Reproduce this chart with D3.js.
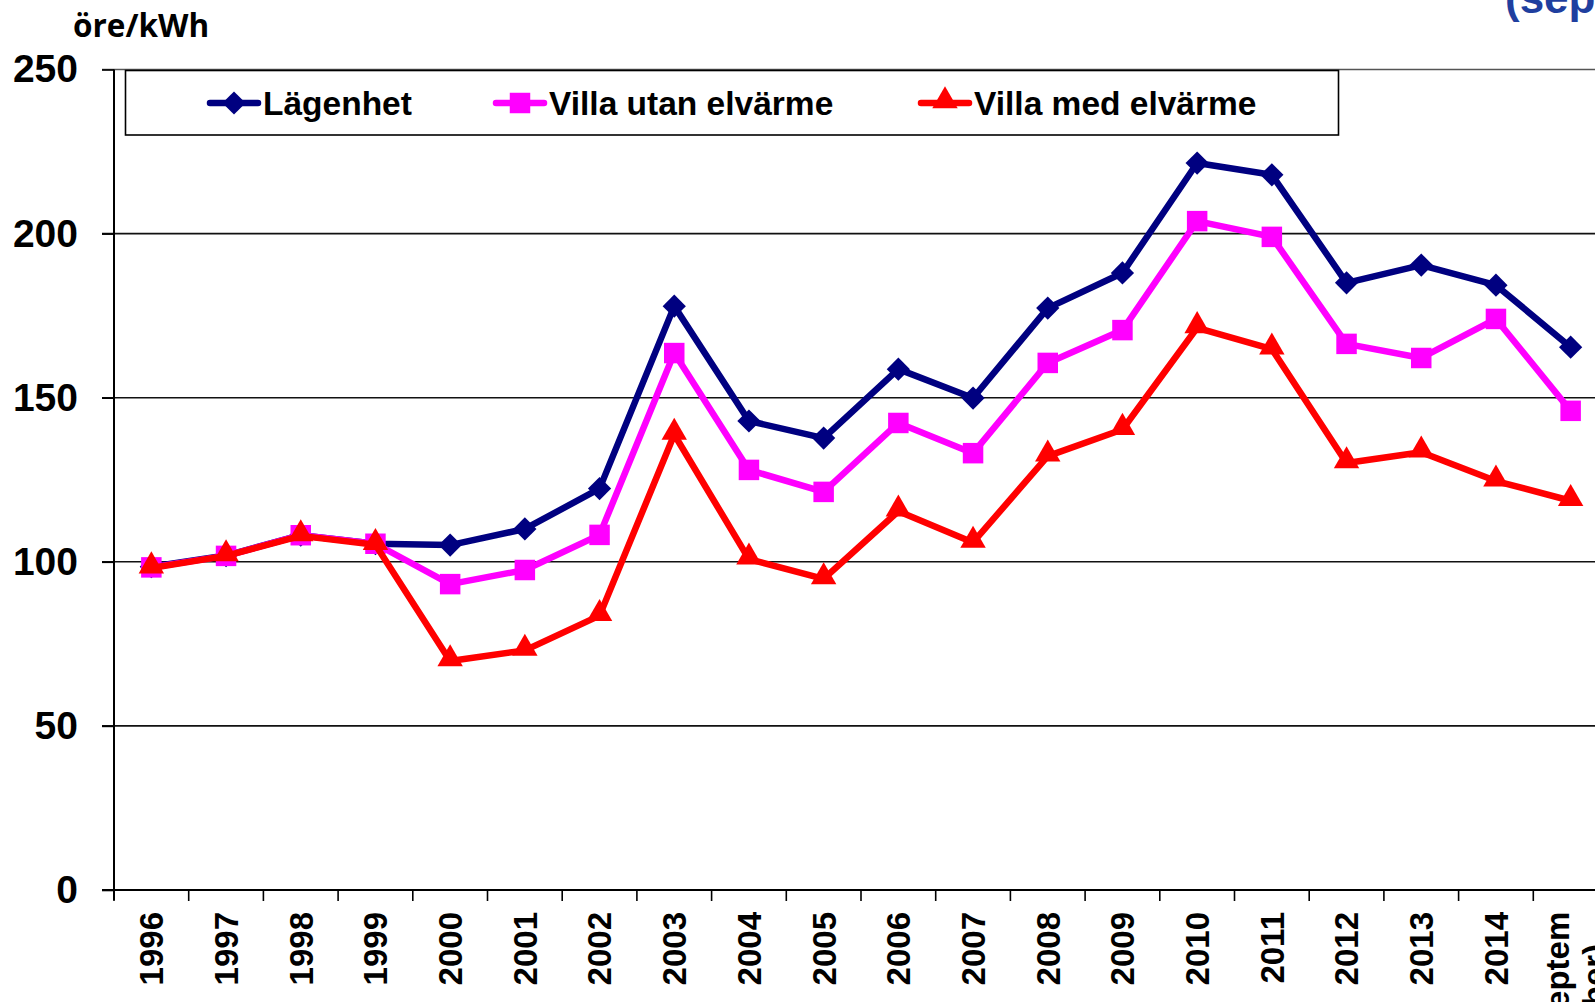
<!DOCTYPE html>
<html>
<head>
<meta charset="utf-8">
<script src="https://cdn.jsdelivr.net/npm/d3@7"></script>
<style>
  html, body { margin: 0; padding: 0; background: #fff; overflow: hidden; }
  svg { display: block; }
</style>
</head>
<body>
<div id="chart"></div>
<script>
// elpriser, öre/kWh
var years = ["1996", "1997", "1998", "1999", "2000", "2001", "2002", "2003", "2004", "2005",
  "2006", "2007", "2008", "2009", "2010", "2011", "2012", "2013", "2014", "2015 sep"];
var lagenhet = [98.5, 101.9, 108.1, 105.5, 105.1, 110, 122.3, 177.9, 142.9, 137.7,
  158.7, 149.9, 177.3, 188, 221.5, 217.9, 185, 190.4, 184.3, 165.4];
var villaUtan = [98.3, 101.8, 108.1, 105.5, 93.2, 97.5, 108.2, 163.6, 128, 121.3,
  142.3, 133.1, 160.6, 170.6, 203.8, 199, 166.4, 162.1, 174, 146];
var villaMed = [98.1, 101.8, 107.9, 105.2, 69.8, 73, 83.6, 138.8, 100.8, 94.8,
  115.4, 105.9, 132.2, 140.3, 171.3, 164.8, 130.1, 133.4, 124.6, 118.6];
var yTicks = [0, 50, 100, 150, 200, 250];
var xLabels = ["1996", "1997", "1998", "1999", "2000", "2001", "2002", "2003", "2004", "2005",
  "2006", "2007", "2008", "2009", "2010", "2011", "2012", "2013", "2014", ["(septem", "ber)"]];
var seriesNames = ["Lägenhet", "Villa utan elvärme", "Villa med elvärme"];

var width = 1595;
var height = 1002;
var left = 114;
var step = 74.7;
var bold = "'Liberation Sans', Arial, sans-serif";

var svg = d3.select("#chart")
  .append("svg")
  .attr("width", width)
  .attr("height", height);

var x = d3.scaleBand()
  .domain(years)
  .range([left, left + step * years.length]);

var y = d3.scaleLinear()
  .domain([0, 250])
  .range([890, 69.5]);

var series = [
  { name: seriesNames[0], values: lagenhet, color: "#000080", shape: "diamond" },
  { name: seriesNames[1], values: villaUtan, color: "#ff00ff", shape: "square" },
  { name: seriesNames[2], values: villaMed, color: "#ff0000", shape: "triangle" }
];

function marker(shape) {
  if (shape == "diamond") return d3.symbol().type(d3.symbolSquare).size(270)();
  if (shape == "square") return d3.symbol().type(d3.symbolSquare).size(420)();
  return d3.symbol().type(d3.symbolTriangle).size(280)();
}

// gridlines
svg.append("g")
  .selectAll("line")
  .data(yTicks.filter(function(d) { return d > 0; }))
  .enter()
  .append("line")
  .attr("x1", left - 12)
  .attr("x2", width)
  .attr("y1", function(d) { return y(d); })
  .attr("y2", function(d) { return y(d); })
  .attr("stroke", function(d) { return d == 250 ? "#555" : "#111"; })
  .attr("stroke-width", 1.6);

// y axis
var yAxis = svg.append("g")
  .attr("transform", "translate(" + left + ",0)")
  .call(d3.axisLeft(y).tickValues(yTicks).tickSize(12).tickPadding(24));
yAxis.select(".domain").attr("stroke", "#000").attr("stroke-width", 2)
  .attr("d", "M0," + y(250) + "V" + (y(0) + 10));
yAxis.selectAll(".tick line").attr("stroke", "#000").attr("stroke-width", 1.6);
yAxis.selectAll(".tick text")
  .attr("fill", "#000")
  .style("font-family", bold)
  .style("font-weight", "bold")
  .style("font-size", "39px");

// x axis line + ticks between categories
svg.append("line")
  .attr("x1", left - 12)
  .attr("x2", width)
  .attr("y1", y(0))
  .attr("y2", y(0))
  .attr("stroke", "#000")
  .attr("stroke-width", 2);

svg.append("g")
  .selectAll("line")
  .data(years)
  .enter()
  .append("line")
  .attr("x1", function(d) { return x(d); })
  .attr("x2", function(d) { return x(d); })
  .attr("y1", y(0))
  .attr("y2", y(0) + 11)
  .attr("stroke", "#000")
  .attr("stroke-width", 1.6);

var xText = svg.append("g")
  .selectAll("text")
  .data(years)
  .enter()
  .append("text")
  .attr("fill", "#000")
  .style("font-family", bold)
  .style("font-weight", "bold")
  .style("font-size", "33px");

xText.each(function(d, i) {
  var t = d3.select(this);
  var cx = x(d) + x.bandwidth() / 2;
  var lab = xLabels[i];
  if (Array.isArray(lab)) {
    t.attr("transform", "translate(" + cx + ",975) rotate(-90)")
      .attr("text-anchor", "middle");
    t.append("tspan").attr("x", 0).attr("y", -2).text(lab[0]);
    t.append("tspan").attr("x", 0).attr("y", 35).text(lab[1]);
  } else {
    t.attr("transform", "translate(" + cx + ",912) rotate(-90)")
      .attr("text-anchor", "end")
      .attr("dy", "0.36em")
      .text(lab);
  }
});

// lines and markers
var line = d3.line()
  .x(function(d, i) { return x(years[i]) + x.bandwidth() / 2; })
  .y(function(d) { return y(d); });

series.forEach(function(s) {
  svg.append("path")
    .datum(s.values)
    .attr("d", line)
    .attr("fill", "none")
    .attr("stroke", s.color)
    .attr("stroke-width", 6.5)
    .attr("stroke-linejoin", "round");

  svg.append("g")
    .selectAll("path")
    .data(s.values)
    .enter()
    .append("path")
    .attr("d", marker(s.shape))
    .attr("fill", s.color)
    .attr("transform", function(d, i) {
      var tr = "translate(" + (x(years[i]) + x.bandwidth() / 2) + "," + y(d) + ")";
      if (s.shape == "diamond") tr += " rotate(45)";
      if (s.shape == "triangle") tr += " translate(0,-2)";
      return tr;
    });
});

// legend
var legend = svg.append("g");
legend.append("rect")
  .attr("x", 125.5)
  .attr("y", 70.5)
  .attr("width", 1213)
  .attr("height", 64.5)
  .attr("fill", "#fff")
  .attr("stroke", "#000")
  .attr("stroke-width", 1.6);

var legendX = [234, 520, 945];
series.forEach(function(s, i) {
  var g = legend.append("g").attr("transform", "translate(" + legendX[i] + ",103)");
  g.append("line")
    .attr("x1", -24).attr("x2", 24)
    .attr("stroke", s.color)
    .attr("stroke-width", 6.5)
    .attr("stroke-linecap", "round");
  g.append("path")
    .attr("d", marker(s.shape))
    .attr("fill", s.color)
    .attr("transform", s.shape == "diamond" ? "rotate(45)" : (s.shape == "triangle" ? "translate(0,-2)" : null));
  g.append("text")
    .attr("x", 29)
    .attr("y", 12)
    .attr("fill", "#000")
    .style("font-family", bold)
    .style("font-weight", "bold")
    .style("font-size", "33.5px")
    .text(s.name);
});

// unit label
svg.append("text")
  .attr("x", 73)
  .attr("y", 37)
  .attr("fill", "#000")
  .style("font-family", "'Open Sans', sans-serif")
  .style("font-weight", "bold")
  .style("font-size", "31.5px")
  .text("öre/kWh");

// title, cut at the top right
svg.append("text")
  .attr("x", 1505)
  .attr("y", 13)
  .attr("fill", "#1f3f9f")
  .style("font-family", bold)
  .style("font-weight", "bold")
  .style("font-size", "44px")
  .text("(september)");
</script>
</body>
</html>
